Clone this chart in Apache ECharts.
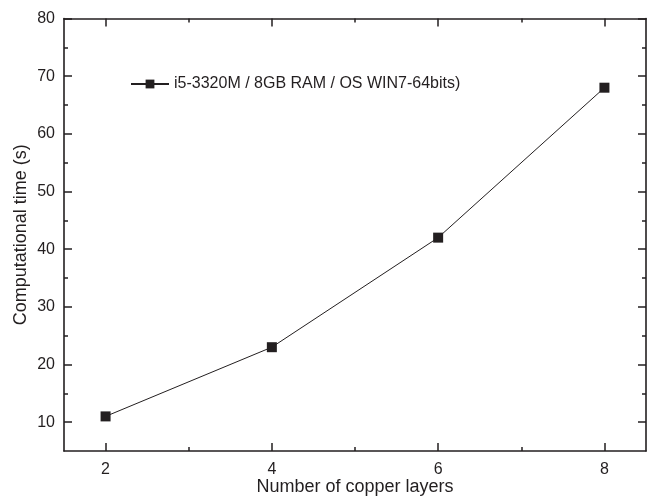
<!DOCTYPE html>
<html>
<head>
<meta charset="utf-8">
<script src="https://cdn.jsdelivr.net/npm/echarts@6/dist/echarts.min.js"></script>
<style>
html,body{margin:0;padding:0;background:#fff;}
#c{width:647px;height:497px;}
</style>
</head>
<body>
<div id="c"></div>
<script>
const layers = [2, 4, 6, 8];
const times = [11, 23, 42, 68];
const seriesName = 'i5-3320M / 8GB RAM / OS WIN7-64bits)';
const xMajor = [2, 4, 6, 8];
const xMinor = [3, 5, 7];
const yMajor = [10, 20, 30, 40, 50, 60, 70, 80];
const yMinor = [15, 25, 35, 45, 55, 65, 75];

const ink = '#231f20';
const font = 'Liberation Sans, Arial, sans-serif';

function xAx(pos, vals, len, showLine, showLabel, extra) {
  return Object.assign({
    type: 'value', position: pos, min: 1.5, max: 8.5,
    axisLine: {show: showLine, onZero: false, lineStyle: {color: ink, width: 1.6}},
    axisTick: {show: true, inside: true, length: len, customValues: vals, lineStyle: {color: ink, width: 1.5}},
    axisLabel: {show: showLabel, customValues: vals, color: ink, fontSize: 16, fontFamily: font, margin: 11},
    splitLine: {show: false}
  }, extra || {});
}
function yAx(pos, vals, len, showLine, showLabel, extra) {
  return Object.assign({
    type: 'value', position: pos, min: 5, max: 80,
    axisLine: {show: showLine, onZero: false, lineStyle: {color: ink, width: 1.6}},
    axisTick: {show: true, inside: true, length: len, customValues: vals, lineStyle: {color: ink, width: 1.5}},
    axisLabel: {show: showLabel, customValues: vals, color: ink, fontSize: 16, fontFamily: font, margin: 9},
    splitLine: {show: false}
  }, extra || {});
}

const chart = echarts.init(document.getElementById('c'), null, {renderer: 'canvas'});
chart.setOption({
  animation: false,
  backgroundColor: '#fff',
  grid: {left: 64, right: 1, top: 18.5, bottom: 46, containLabel: false, outerBoundsMode: 'none'},
  legend: {
    left: 130, top: 76, padding: 0,
    itemWidth: 38, itemHeight: 11, itemGap: 5,
    textStyle: {color: ink, fontSize: 16, fontFamily: font},
    data: [seriesName]
  },
  xAxis: [
    xAx('bottom', xMajor, 8, true, true, {
      name: 'Number of copper layers', nameLocation: 'middle', nameGap: 27, nameMoveOverlap: false,
      nameTextStyle: {color: ink, fontSize: 18, fontFamily: font}
    }),
    xAx('bottom', xMinor, 4, false, false),
    xAx('top', xMajor, 8, true, false),
    xAx('top', xMinor, 4, false, false)
  ],
  yAxis: [
    yAx('left', yMajor, 8, true, true, {
      name: 'Computational time (s)', nameLocation: 'middle', nameGap: 34, nameRotate: 90, nameMoveOverlap: false,
      nameTextStyle: {color: ink, fontSize: 18, fontFamily: font}
    }),
    yAx('left', yMinor, 4, false, false),
    yAx('right', yMajor, 8, true, false),
    yAx('right', yMinor, 4, false, false)
  ],
  series: [{
    name: seriesName,
    type: 'line',
    xAxisIndex: 0, yAxisIndex: 0,
    data: layers.map((x, i) => [x, times[i]]),
    symbol: 'rect', symbolSize: 10,
    itemStyle: {color: ink},
    lineStyle: {color: ink, width: 1}
  }]
});
</script>
</body>
</html>
